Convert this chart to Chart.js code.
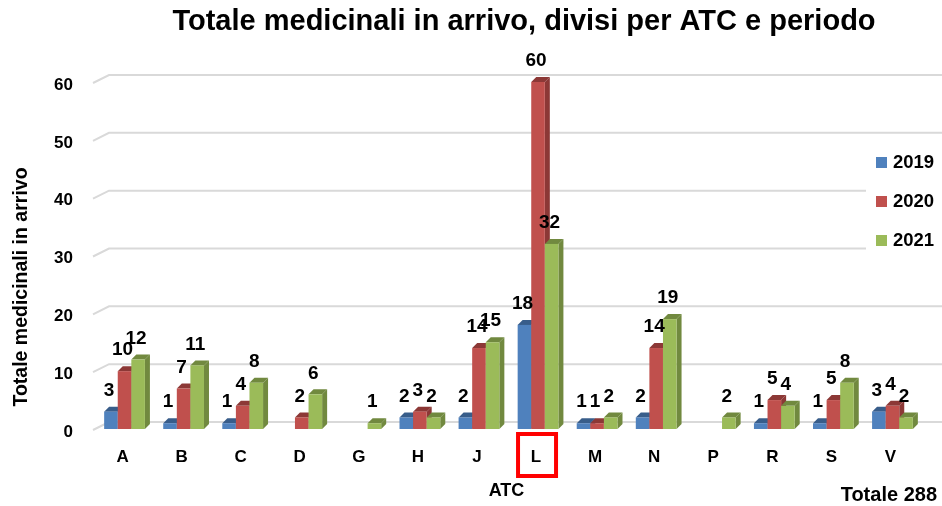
<!DOCTYPE html>
<html>
<head>
<meta charset="utf-8">
<script src="https://cdn.jsdelivr.net/npm/chart.js@4.4.0/dist/chart.umd.min.js"></script>
<style>
  html, body { margin: 0; padding: 0; background: #fff; }
  #wrap { width: 942px; height: 506px; position: relative; }
</style>
</head>
<body>
<div id="wrap"><canvas id="grafico"></canvas></div>
<script>
// --- dati ---
const categorie = ['A', 'B', 'C', 'D', 'G', 'H', 'J', 'L', 'M', 'N', 'P', 'R', 'S', 'V'];
const anni = ['2019', '2020', '2021'];
const valori2019 = [3, 1, 1, 0, 0, 2, 2, 18, 1, 2, 0, 1, 1, 3];
const valori2020 = [10, 7, 4, 2, 0, 3, 14, 60, 1, 14, 0, 5, 5, 4];
const valori2021 = [12, 11, 8, 6, 1, 2, 15, 32, 2, 19, 2, 4, 8, 2];
const tickY = [0, 10, 20, 30, 40, 50, 60];
const totale = 288;
const categoriaEvidenziata = 'L';
const titolo = 'Totale medicinali in arrivo, divisi per ATC e periodo';
const titoloY = 'Totale medicinali in arrivo';

// colori: fronte, lato
const colori = [
  { fronte: '#4F81BD', lato: '#385D8A' },
  { fronte: '#C0504D', lato: '#8C3836' },
  { fronte: '#9BBB59', lato: '#71893F' }
];
const FONT = "'Liberation Sans', Arial, sans-serif";
const PROF = 5;          // profondità 3D delle barre
const PROF_GRIGLIA = 7;  // arretramento della griglia
const SPOST = 2;         // piccolo spostamento delle barre verso destra

// --- griglia in prospettiva, titoli ---
const grigliaPlugin = {
  id: 'griglia3d',
  beforeDatasetsDraw(chart) {
    const { ctx, chartArea, scales: { y } } = chart;
    ctx.save();
    ctx.strokeStyle = '#D9D9D9';
    ctx.lineWidth = 2;
    tickY.forEach(v => {
      const yf = y.getPixelForValue(v) + 1;
      const yb = yf - PROF_GRIGLIA - 1;
      ctx.beginPath();
      ctx.moveTo(chartArea.left, yf);
      ctx.lineTo(chartArea.left + 16, yb);
      ctx.lineTo(chart.width, yb);
      ctx.stroke();
    });
    // titolo principale
    ctx.fillStyle = '#000';
    ctx.font = `bold 29px ${FONT}`;
    ctx.textAlign = 'center';
    ctx.textBaseline = 'middle';
    ctx.fillText(titolo, 524, 22);
    // titolo asse Y
    ctx.translate(22, 287);
    ctx.rotate(-Math.PI / 2);
    ctx.font = `bold 19.5px ${FONT}`;
    ctx.fillText(titoloY, 0, 0);
    ctx.restore();
  }
};

// --- barre 3D, etichette, legenda, riquadro ---
const barrePlugin = {
  id: 'barre3d',
  afterDatasetsDraw(chart) {
    const { ctx, scales: { x } } = chart;
    ctx.save();
    categorie.forEach((c, j) => {
      chart.data.datasets.forEach((ds, i) => {
        const v = ds.data[j];
        if (!v) return;
        const b = chart.getDatasetMeta(i).data[j];
        const l = b.x - b.width / 2 + SPOST, r = b.x + b.width / 2 + SPOST;
        const t = b.y, bot = b.base;
        const col = colori[i];
        ctx.fillStyle = col.lato;
        // lato
        ctx.beginPath();
        ctx.moveTo(r, bot);
        ctx.lineTo(r + PROF, bot - PROF);
        ctx.lineTo(r + PROF, t - PROF);
        ctx.lineTo(r, t);
        ctx.closePath();
        ctx.fill();
        // cima
        ctx.beginPath();
        ctx.moveTo(l, t);
        ctx.lineTo(l + PROF, t - PROF);
        ctx.lineTo(r + PROF, t - PROF);
        ctx.lineTo(r, t);
        ctx.closePath();
        ctx.fill();
        // fronte
        ctx.fillStyle = col.fronte;
        ctx.fillRect(l, t, r - l, bot - t);
      });
    });
    // etichette dei valori
    ctx.fillStyle = '#000';
    ctx.font = `bold 19px ${FONT}`;
    ctx.textAlign = 'center';
    ctx.textBaseline = 'middle';
    chart.data.datasets.forEach((ds, i) => {
      chart.getDatasetMeta(i).data.forEach((b, j) => {
        const v = ds.data[j];
        if (!v) return;
        ctx.fillText(String(v), b.x, b.y - 21);
      });
    });
    // legenda
    ctx.fillStyle = '#fff';
    ctx.fillRect(866, 140, 76, 115);
    ctx.font = `bold 18.5px ${FONT}`;
    ctx.textAlign = 'left';
    anni.forEach((a, i) => {
      const yy = 162 + i * 39;
      ctx.fillStyle = colori[i].fronte;
      ctx.fillRect(876, yy - 5, 11, 11);
      ctx.fillStyle = '#000';
      ctx.fillText(a, 893, yy + 1);
    });
    // totale
    ctx.textAlign = 'right';
    ctx.font = `bold 20px ${FONT}`;
    ctx.fillText('Totale ' + totale, 937, 495);
    // riquadro rosso sulla categoria evidenziata
    const cx = x.getPixelForValue(categorie.indexOf(categoriaEvidenziata));
    ctx.strokeStyle = '#FF0000';
    ctx.lineWidth = 4;
    ctx.strokeRect(cx - 18, 434, 38, 42);
    ctx.restore();
  }
};

new Chart(document.getElementById('grafico'), {
  type: 'bar',
  data: {
    labels: categorie,
    datasets: [
      { label: anni[0], data: valori2019 },
      { label: anni[1], data: valori2020 },
      { label: anni[2], data: valori2021 }
    ].map(d => ({ ...d, backgroundColor: 'rgba(0,0,0,0)', categoryPercentage: 0.69, barPercentage: 1 }))
  },
  options: {
    responsive: true,
    maintainAspectRatio: false,
    animation: false,
    events: [],
    layout: { padding: { left: 0, right: 22, top: 82, bottom: 0 } },
    plugins: {
      legend: { display: false },
      tooltip: { enabled: false },
      title: { display: false }
    },
    scales: {
      x: {
        grid: { display: false },
        border: { display: false },
        ticks: { color: '#000', font: { family: FONT, size: 17, weight: 'bold' }, padding: 10 },
        title: { display: true, text: 'ATC', color: '#000', font: { family: FONT, size: 18, weight: 'bold' }, padding: { top: 10, bottom: 4 } },
        afterFit: s => { s.height = 77; }
      },
      y: {
        min: 0,
        max: 60,
        grid: { display: false },
        border: { display: false },
        ticks: { stepSize: 10, color: '#000', font: { family: FONT, size: 17, weight: 'bold' }, padding: 12, labelOffset: 3 },
        afterFit: s => { s.width = 93; }
      }
    }
  },
  plugins: [grigliaPlugin, barrePlugin]
});
</script>
</body>
</html>
